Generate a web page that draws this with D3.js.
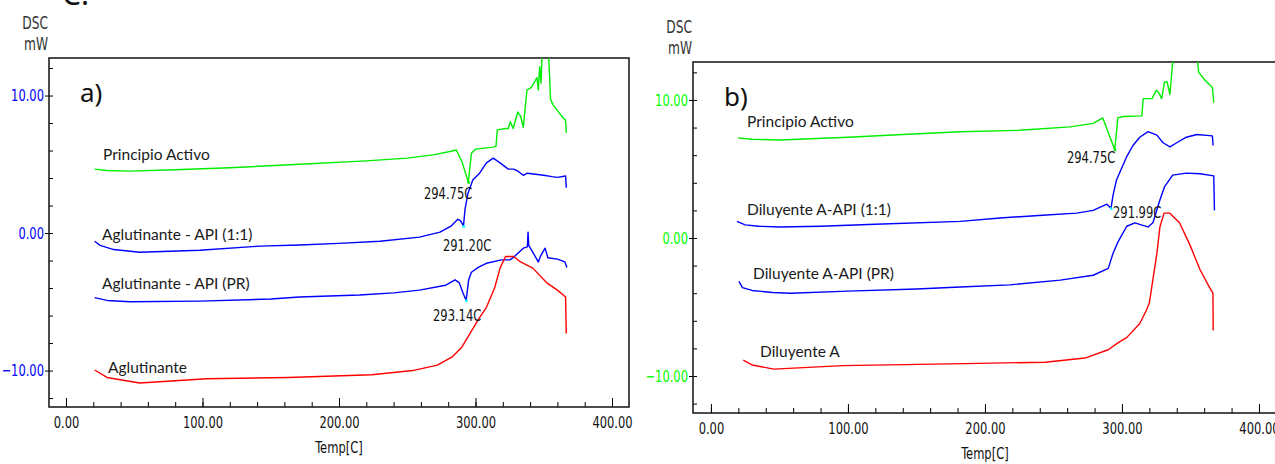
<!DOCTYPE html>
<html>
<head>
<meta charset="utf-8">
<script src="https://cdn.jsdelivr.net/npm/d3@7"></script>
<style>
  body { margin: 0; background: #fff; }
  svg { display: block; }
  .num { font-family: "Liberation Sans Narrow", "DejaVu Sans Condensed", "DejaVu Sans", sans-serif; font-size: 16px; }
  .lbl { font-family: Lato, "Noto Sans", sans-serif; font-size: 15.5px; fill: #1a1a1a; }
</style>
</head>
<body>
<div id="chart"></div>
<script>
// temperature axis and DSC axis ticks
var tempTicks = [0, 100, 200, 300, 400];
var tempMinor = d3.range(0, 401, 20);
var dscTicks = [-10, 0, 10];
var dscMinor = d3.range(-12, 13, 2);

// panel a) series, [temp C, mW]
var aPrincipio = [[21,4.65],[30,4.55],[47,4.5],[80,4.6],[120,4.75],[171,5.0],[220,5.25],[250,5.45],[270,5.7],[282,5.95],[286,6.04],[290,5.2],[294.75,3.7],[297,5.8],[300,6.1],[313,6.25],[315,6.3],[316,7.5],[322,7.6],[324,7.6],[325.5,8.1],[327.6,7.6],[331,8.8],[333,8.5],[335,7.7],[337.7,10.4],[341,10.6],[345,11.3],[346,10.4],[347,12.1],[348,10.9],[349,13.5],[353,14.0],[354,12.0],[355,9.7],[357,9.3],[360,8.9],[364,8.4],[366,8.2],[366.5,7.3]];
var aApi11 = [[21,-0.6],[25,-0.9],[35,-1.2],[54,-1.4],[98,-1.25],[142,-0.95],[171,-0.87],[200,-0.75],[230,-0.6],[259,-0.3],[274,0.07],[282,0.5],[287,1.0],[289,0.9],[291.2,0.5],[292.3,1.7],[294.5,2.9],[298,3.85],[303,4.35],[308,5.1],[313,5.45],[318,5.1],[324,4.65],[328,4.65],[331,4.5],[335,4.2],[338,4.35],[350,4.2],[356,4.1],[360,4.05],[366,4.15],[366.5,3.3]];
var aApiPR = [[21,-4.7],[30,-4.9],[47,-5.0],[98,-4.95],[150,-4.8],[171,-4.65],[215,-4.5],[240,-4.35],[259,-4.15],[278,-3.8],[285,-3.4],[288,-3.6],[291,-4.4],[293.14,-4.9],[295,-3.4],[297,-2.85],[302,-2.5],[308,-2.2],[319,-1.95],[325,-1.95],[327.5,-1.8],[335,-1.1],[338,-1.0],[338.5,0.07],[339,-0.9],[342,-1.4],[346,-2.1],[348,-1.6],[351,-1.1],[353,-1.8],[360,-1.9],[365.5,-2.1],[367,-2.5]];
var aAglutinante = [[21,-9.96],[30,-10.5],[54,-10.9],[103,-10.6],[163,-10.5],[224,-10.3],[254,-10.0],[272,-9.6],[283,-9.0],[290,-8.3],[296,-7.3],[302,-6.3],[308,-5.4],[314,-4.0],[318,-2.55],[322,-1.7],[328,-1.7],[333,-2.1],[342,-2.55],[352,-3.6],[360,-4.15],[366,-4.65],[366.5,-7.3]];

// panel b) series, [temp C, mW]
var bPrincipio = [[19.7,7.25],[30,7.15],[50,7.1],[100,7.3],[140,7.5],[182,7.7],[225,7.8],[262,8.05],[279,8.3],[286,8.7],[294.75,6.4],[297,8.7],[301,8.8],[314.5,8.85],[315.5,10.1],[322,10.1],[325,10.7],[327,10.5],[329,10.1],[331,11.3],[333,11.3],[335,10.4],[337,12.7],[338,14.0],[354,14.0],[356,12.0],[360.5,11.45],[366,10.9],[367,9.8]];
var bApi11 = [[19,1.2],[25,0.95],[35,0.85],[50,0.8],[80,0.85],[120,1.0],[182,1.2],[211,1.45],[242,1.65],[267,1.8],[279,2.0],[289,2.45],[291.99,2.15],[293.5,3.1],[296,4.2],[303.5,5.9],[308,6.7],[313,7.3],[319,7.7],[325.5,7.45],[330,6.9],[335,6.6],[340,6.9],[347,7.3],[354.7,7.5],[366,7.4],[366.5,6.7]];
var bApiPR = [[20.4,-3.15],[23,-3.6],[30,-3.8],[45,-3.95],[58,-4.0],[100,-3.85],[150,-3.7],[182,-3.55],[218,-3.4],[255,-3.05],[279,-2.7],[290,-2.2],[293.5,-1.1],[297,-0.3],[303.5,0.85],[309.5,1.1],[314,0.95],[319,0.8],[322.6,1.1],[327.7,2.75],[331,3.7],[337,4.55],[347,4.7],[357,4.65],[367,4.5],[367.5,2.0]];
var bDiluyente = [[23.6,-8.85],[30,-9.2],[46,-9.5],[96,-9.25],[185,-9.1],[244,-9.0],[273,-8.7],[290,-8.1],[297,-7.6],[303.6,-7.2],[313,-6.2],[318,-5.2],[320,-4.7],[322.6,-3.0],[325.5,-1.1],[327.7,0.8],[330.7,1.8],[335,1.8],[342,1.1],[349.6,-0.5],[357,-2.3],[364,-3.6],[366.4,-4.0],[366.6,-6.7]];

var aNames = ["Principio Activo", "Aglutinante - API (1:1)", "Aglutinante - API (PR)", "Aglutinante"];
var bNames = ["Principio Activo", "Diluyente A-API (1:1)", "Diluyente A-API (PR)", "Diluyente A"];
var aPeaks = [[294.75, "294.75C"], [291.2, "291.20C"], [293.14, "293.14C"]];
var bPeaks = [[294.75, "294.75C"], [291.99, "291.99C"]];

var W = 1275, H = 464;
var svg = d3.select("#chart").append("svg").attr("width", W).attr("height", H);

// cut-off caption letter at the very top
svg.append("text").attr("x", 62).attr("y", 5)
  .style("font-family", "Noto Sans, sans-serif").style("font-size", "30px").attr("fill", "#111")
  .text("C.");

function drawPanel(p) {
  var x = d3.scaleLinear().domain(p.tDom).range([p.left, p.right]);
  var y = d3.scaleLinear().domain(p.vDom).range([p.bottom, p.top]);

  var g = svg.append("g");
  var clipId = "clip-" + p.id;
  g.append("clipPath").attr("id", clipId).append("rect")
    .attr("x", p.left).attr("y", p.top).attr("width", p.right - p.left).attr("height", p.bottom - p.top);

  // x axis: major ticks with labels, minor ticks every 20
  g.append("g").attr("transform", "translate(0," + p.bottom + ")")
    .call(d3.axisBottom(x).tickValues(tempMinor).tickSize(-5).tickFormat(""))
    .call(function(s) { s.select(".domain").remove(); });
  g.append("g").attr("class", "num").attr("transform", "translate(0," + p.bottom + ")")
    .call(d3.axisBottom(x).tickValues(tempTicks).tickSizeInner(-9).tickSizeOuter(0).tickPadding(10).tickFormat(d3.format(".2f")))
    .call(function(s) {
      s.select(".domain").remove();
      s.selectAll("text").attr("fill", "#111").style("font-size", "16px");
    });

  // y axis
  g.append("g").attr("transform", "translate(" + p.left + ",0)")
    .call(d3.axisLeft(y).tickValues(dscMinor).tickSize(-4).tickFormat(""))
    .call(function(s) { s.select(".domain").remove(); });
  g.append("g").attr("class", "num").attr("transform", "translate(" + p.left + ",0)")
    .call(d3.axisLeft(y).tickValues(dscTicks).tickSizeInner(4).tickSizeOuter(0).tickPadding(1).tickFormat(d3.format(".2f")))
    .call(function(s) {
      s.select(".domain").remove();
      s.selectAll("text").attr("fill", p.yColor).style("font-size", "16px");
    });

  // frame
  g.append("rect").attr("x", p.left).attr("y", p.top)
    .attr("width", p.right - p.left).attr("height", p.bottom - p.top)
    .attr("fill", "none").attr("stroke", "#111").attr("stroke-width", 1.5);

  // axis captions
  g.append("text").attr("class", "num").attr("x", p.left - 1).attr("y", p.top - 29)
    .attr("text-anchor", "end").attr("fill", "#333").style("font-size", "17px").text("DSC");
  g.append("text").attr("class", "num").attr("x", p.left - 1).attr("y", p.top - 8)
    .attr("text-anchor", "end").attr("fill", "#333").style("font-size", "17px").text("mW");
  g.append("text").attr("class", "num").attr("x", x(200)).attr("y", p.bottom + 46)
    .attr("text-anchor", "middle").attr("fill", "#111").style("font-size", "16px").text("Temp[C]");

  // curves
  var line = d3.line().x(function(d) { return x(d[0]); }).y(function(d) { return y(d[1]); });
  var curves = g.append("g").attr("clip-path", "url(#" + clipId + ")");
  p.series.forEach(function(s) {
    curves.append("path").datum(s.data)
      .attr("d", line).attr("fill", "none").attr("stroke", s.color)
      .attr("stroke-width", 1.4).attr("stroke-linejoin", "round");
  });

  // small markers at the detected peaks
  p.markers.forEach(function(m) {
    var s = p.series[m.series];
    var pt = s.data.find(function(d) { return d[0] === m.t; });
    g.append("rect").attr("x", x(pt[0]) - 1).attr("y", y(pt[1]) - 1)
      .attr("width", 2.5).attr("height", 2.5).attr("fill", m.color);
  });

  // peak temperature labels
  p.peaks.forEach(function(k) {
    g.append("text").attr("class", "num").attr("x", k.x).attr("y", k.y)
      .attr("fill", "#111").style("font-size", "16px").text(k.text);
  });

  // series names
  p.labels.forEach(function(l) {
    g.append("text").attr("class", "lbl").attr("x", l.x).attr("y", l.y).text(l.text);
  });

  g.append("text").attr("x", p.left + 31).attr("y", p.top + 44)
    .style("font-family", "Noto Sans, sans-serif").style("font-size", "26px").attr("fill", "#111")
    .text(p.tag);
}

drawPanel({
  id: "a", tag: "a)", yColor: "#0000ff",
  left: 49, right: 629, top: 58, bottom: 407,
  tDom: [-12.45, 412.45], vDom: [-12.65, 12.73],
  series: [
    { data: aPrincipio, color: "#00ee00" },
    { data: aApi11, color: "#0000ff" },
    { data: aApiPR, color: "#0000ff" },
    { data: aAglutinante, color: "#ff0000" }
  ],
  markers: [
    { series: 0, t: 294.75, color: "#00ee00" },
    { series: 1, t: 291.2, color: "#00ffff" },
    { series: 2, t: 293.14, color: "#00ffff" }
  ],
  peaks: [
    { x: 424, y: 199, text: aPeaks[0][1] },
    { x: 443, y: 251, text: aPeaks[1][1] },
    { x: 433, y: 321, text: aPeaks[2][1] }
  ],
  labels: [
    { x: 103, y: 160, text: aNames[0] },
    { x: 102, y: 240, text: aNames[1] },
    { x: 102, y: 289, text: aNames[2] },
    { x: 108, y: 373, text: aNames[3] }
  ]
});

drawPanel({
  id: "b", tag: "b)", yColor: "#00ff00",
  left: 693, right: 1285, top: 62, bottom: 413,
  tDom: [-13.1, 419], vDom: [-12.68, 12.75],
  series: [
    { data: bPrincipio, color: "#00ee00" },
    { data: bApi11, color: "#0000ff" },
    { data: bApiPR, color: "#0000ff" },
    { data: bDiluyente, color: "#ff0000" }
  ],
  markers: [
    { series: 0, t: 294.75, color: "#00ee00" },
    { series: 1, t: 291.99, color: "#00ffff" }
  ],
  peaks: [
    { x: 1067, y: 163, text: bPeaks[0][1] },
    { x: 1113, y: 218, text: bPeaks[1][1] }
  ],
  labels: [
    { x: 747, y: 127, text: bNames[0] },
    { x: 747, y: 215, text: bNames[1] },
    { x: 753, y: 279, text: bNames[2] },
    { x: 760, y: 357, text: bNames[3] }
  ]
});

// instrument-style numbers are set narrow: squeeze each numeric text about its anchor
svg.selectAll("text.num, .num text").each(function() {
  var ax = +(this.getAttribute("x") || 0);
  d3.select(this).attr("transform", "translate(" + ax + ",0) scale(0.8,1) translate(" + (-ax) + ",0)");
});
</script>
</body>
</html>
